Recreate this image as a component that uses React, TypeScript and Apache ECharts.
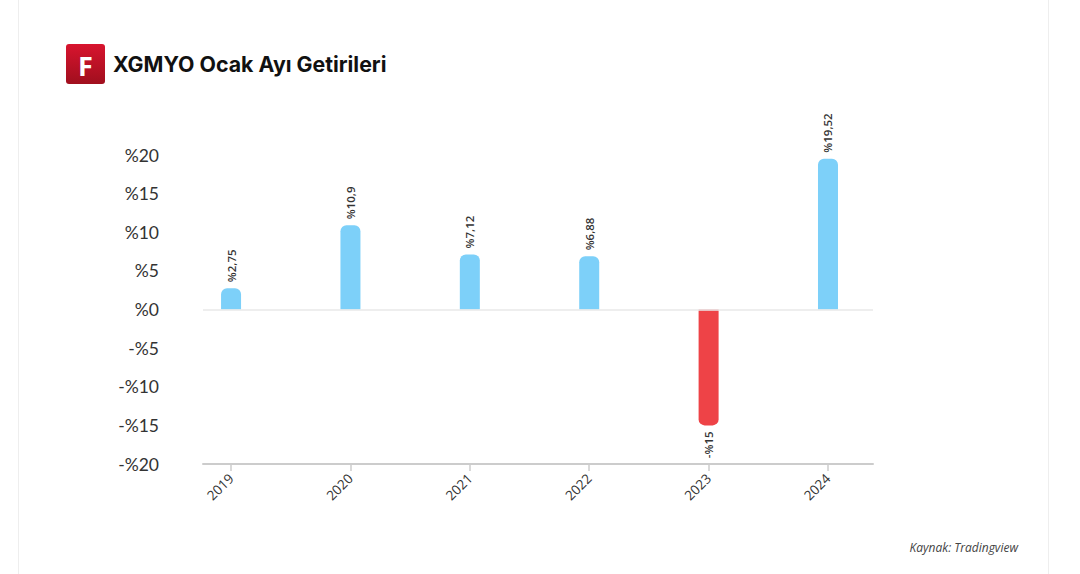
import React, { useEffect, useRef } from "react";
import * as echarts from "echarts";

const years = ["2019", "2020", "2021", "2022", "2023", "2024"];
const returns = [2.75, 10.9, 7.12, 6.88, -15, 19.52];
const yTicks = [-20, -15, -10, -5, 0, 5, 10, 15, 20];

const POS = "#7dd0f9";
const NEG = "#ee4347";

function fmt(v: number): string {
  const s = String(Math.abs(v)).replace(".", ",");
  return (v < 0 ? "-%" : "%") + s;
}

export default function App() {
  const ref = useRef<HTMLDivElement>(null);
  useEffect(() => {
    if (!ref.current) return;
    const chart = echarts.init(ref.current, undefined, { renderer: "svg" });
    chart.setOption({
      animation: false,
      backgroundColor: "#ffffff",
      grid: { left: 203, right: 207, top: 155, bottom: 110, containLabel: false },
      xAxis: {
        type: "value",
        min: -0.235,
        max: 5.377,
        axisLine: { show: true, onZero: false, lineStyle: { color: "#cccccc", width: 2 } },
        axisTick: {
          show: true,
          customValues: years.map((_, i) => i),
          length: 7,
          lineStyle: { color: "#cccccc", width: 1.5 },
        },
        axisLabel: {
          customValues: years.map((_, i) => i),
          formatter: (v: number) => years[Math.round(v)] ?? "",
          rotate: 45,
          fontSize: 13.5,
          color: "#333333",
          fontFamily: "Open Sans",
          margin: 12,
        },
        splitLine: { show: false },
      },
      yAxis: {
        type: "value",
        min: -20,
        max: 20,
        interval: 5,
        axisLine: { show: false },
        axisTick: { show: false },
        splitLine: { show: false },
        axisLabel: {
          formatter: (v: number) => (yTicks.includes(v) ? fmt(v) : ""),
          fontSize: 17.5,
          color: "#333333",
          fontFamily: "Lato",
          margin: 44,
        },
      },
      series: [
        {
          type: "bar",
          barWidth: 20,
          data: returns.map((v, i) => ({
            value: [i, v],
            itemStyle: {
              color: v < 0 ? NEG : POS,
              borderRadius: v < 0 ? [0, 0, 6, 6] : [6, 6, 0, 0],
            },
            label: {
              show: true,
              position: v < 0 ? "bottom" : "top",
              rotate: 90,
              align: v < 0 ? "right" : "left",
              verticalAlign: "middle",
              distance: 6,
              formatter: () => fmt(v),
              fontSize: 11.5,
              fontWeight: 600,
              color: "#333333",
              fontFamily: "Open Sans",
            },
          })),
          markLine: {
            silent: true,
            symbol: "none",
            label: { show: false },
            lineStyle: { color: "#e8e8e8", type: "solid", width: 1.5 },
            data: [{ yAxis: 0 }],
          },
        },
      ],
      graphic: [
        { type: "rect", left: 18, top: 0, shape: { width: 1, height: 574 }, style: { fill: "#eeeeee" }, silent: true },
        { type: "rect", left: 1048, top: 0, shape: { width: 1, height: 574 }, style: { fill: "#eeeeee" }, silent: true },
        {
          type: "group",
          left: 66,
          top: 44,
          children: [
            {
              type: "rect",
              shape: { x: 0, y: 0, width: 39, height: 40, r: 3 },
              style: {
                fill: new echarts.graphic.LinearGradient(0, 0, 0, 1, [
                  { offset: 0, color: "#d8142e" },
                  { offset: 1, color: "#a00f1e" },
                ]),
              },
            },
            {
              type: "text",
              x: 19.5,
              y: 21,
              style: {
                text: "F",
                fill: "#ffffff",
                font: "bold 27px 'Noto Sans'",
                align: "center",
                verticalAlign: "middle",
              },
            },
          ],
        },
        {
          type: "text",
          x: 113,
          y: 64,
          style: {
            text: "XGMYO Ocak Ayı Getirileri",
            fill: "#111111",
            font: "bold 21.3px Inter",
            verticalAlign: "middle",
          },
        },
        {
          type: "text",
          x: 1018,
          y: 547,
          style: {
            text: "Kaynak: Tradingview",
            fill: "#444444",
            font: "italic 12px 'Open Sans'",
            align: "right",
            verticalAlign: "middle",
          },
        },
      ],
    });
    return () => chart.dispose();
  }, []);
  return (
    <div
      ref={ref}
      style={{ position: "fixed", left: 0, top: 0, width: 1080, height: 574 }}
    />
  );
}
